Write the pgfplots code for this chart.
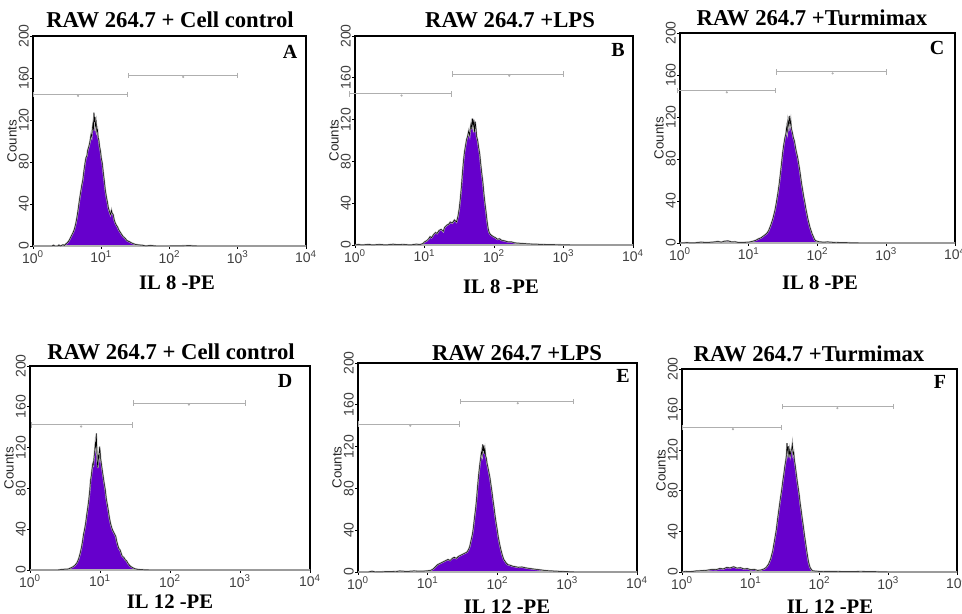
\documentclass[border=0pt]{standalone}
\usepackage{pgfplots}
\pgfplotsset{compat=1.18}
\usepackage{pgfplotstable}
\usepackage{fontspec}
\setmainfont{Liberation Serif}
\newfontfamily\arial{Liberation Sans}
\usetikzlibrary{arrows.meta}
\definecolor{hist}{RGB}{102,0,204}
\definecolor{gate}{RGB}{175,175,175}

\pgfplotstableread{
x y
0.00 0
0.28 0
0.30 0.8
0.32 0
0.36 0
0.38 1
0.40 0
0.44 1.2
0.46 0.5
0.48 2
0.50 3
0.52 4.5
0.535 6
0.55 8
0.565 10
0.58 12
0.595 14
0.61 17
0.625 21
0.64 26
0.655 32
0.67 39
0.685 46
0.70 52
0.715 58
0.73 63
0.745 71
0.76 78
0.775 84
0.79 86
0.80 91
0.815 94
0.83 98
0.84 102
0.85 106
0.86 104
0.87 112
0.878 116
0.886 110
0.893 127
0.90 118
0.908 123
0.915 114
0.925 118
0.935 109
0.945 111
0.955 103
0.965 101
0.975 95
0.99 90
1.00 84
1.015 79
1.03 70
1.045 62
1.06 53
1.075 47
1.09 42
1.105 36
1.12 33
1.135 30
1.15 34
1.16 31
1.175 30
1.19 25
1.205 22
1.22 20
1.24 18
1.26 15
1.28 13
1.30 11
1.32 9
1.34 8
1.36 6.5
1.38 5
1.40 4.5
1.43 3.5
1.46 2.5
1.50 1.5
1.55 1
1.60 0.8
1.65 0
1.72 0.5
1.80 0
2.00 0
2.30 0.3
2.40 0
4.00 0
}\dA

\pgfplotstableread{
x y
0.00 0
0.05 0.5
0.10 0
0.20 0.6
0.25 0
0.35 0.5
0.45 0
0.55 0.8
0.60 0.3
0.70 0.5
0.80 0
0.88 0.8
0.94 0.5
0.98 1.5
1.00 3
1.03 4
1.06 6
1.08 8
1.10 7
1.13 10
1.16 12
1.18 11
1.21 14
1.24 15
1.27 13
1.29 17
1.32 19
1.35 20
1.37 22
1.40 21
1.43 24
1.46 22
1.48 27
1.50 35
1.515 44
1.53 55
1.545 68
1.56 80
1.575 89
1.59 95
1.605 101
1.62 104
1.635 109
1.65 105
1.66 112
1.67 116
1.68 111
1.69 121
1.70 114
1.71 120
1.72 108
1.73 118
1.74 112
1.75 104
1.765 100
1.78 93
1.795 87
1.81 77
1.825 68
1.84 60
1.855 49
1.87 40
1.885 32
1.90 23
1.915 16
1.93 12
1.95 10
1.97 9
1.99 8
2.02 7
2.05 5.5
2.08 6
2.11 4.5
2.15 4
2.20 3
2.25 3
2.30 2
2.40 1.5
2.50 1
2.60 0.8
2.70 0.5
2.80 0.3
2.95 0.2
3.10 0
4.00 0
}\dB

\pgfplotstableread{
x y
0.00 0
0.10 0.3
0.20 0
0.30 0.8
0.40 0.5
0.50 1
0.55 1.5
0.60 0.8
0.65 1.8
0.70 2
0.75 1
0.80 1.2
0.85 0.5
0.92 0.6
1.00 0.8
1.05 1.5
1.10 2.5
1.14 4
1.18 5
1.22 7
1.26 9
1.29 12
1.32 17
1.35 23
1.38 31
1.40 38
1.42 46
1.44 55
1.46 66
1.48 78
1.495 87
1.51 94
1.525 100
1.54 104
1.55 110
1.56 106
1.57 116
1.58 112
1.59 121
1.60 113
1.61 117
1.62 109
1.635 105
1.65 100
1.665 97
1.68 91
1.695 86
1.71 82
1.725 76
1.74 70
1.755 63
1.77 56
1.785 50
1.80 44
1.815 39
1.83 33
1.845 28
1.86 23
1.875 19
1.89 15
1.905 12
1.92 9
1.94 6
1.96 3
1.98 2
2.02 1.2
2.08 0.8
2.15 1
2.25 0.5
2.40 0.3
2.60 0
4.00 0
}\dC

\pgfplotstableread{
x y
0.00 0
0.40 0
0.45 0.5
0.50 0.8
0.55 1
0.58 2
0.61 3
0.64 4.5
0.67 7
0.695 11
0.715 16
0.735 22
0.75 28
0.765 35
0.78 40
0.795 46
0.81 54
0.825 61
0.84 69
0.855 79
0.865 88
0.875 92
0.885 98
0.895 104
0.905 103
0.915 110
0.925 117
0.933 124
0.94 121
0.948 134
0.955 118
0.962 104
0.97 100
0.978 112
0.986 110
0.994 121
1.002 116
1.01 109
1.02 104
1.03 99
1.045 92
1.06 85
1.075 79
1.09 70
1.105 64
1.12 58
1.135 51
1.15 46
1.165 42
1.18 39
1.195 37
1.21 35
1.225 33
1.24 28
1.255 24
1.27 21
1.285 20
1.30 17
1.315 14
1.33 13
1.345 12
1.36 10
1.38 9
1.40 6.5
1.43 4
1.46 2.5
1.50 1.2
1.55 0.5
1.60 0.3
1.70 0
4.00 0
}\dD

\pgfplotstableread{
x y
0.00 0
0.15 0
0.20 0.8
0.25 0
0.40 0.3
0.55 0.5
0.60 1
0.70 0.5
0.80 1
0.90 0.8
0.98 1
1.04 1.5
1.08 3
1.11 5
1.14 7
1.17 8
1.20 9
1.23 10
1.26 11
1.29 12
1.32 11
1.35 13
1.38 14
1.41 13
1.44 15
1.47 16
1.50 17
1.53 18
1.56 19
1.58 21
1.60 24
1.62 30
1.64 36
1.655 43
1.67 52
1.685 60
1.70 70
1.712 80
1.724 89
1.736 97
1.748 104
1.76 110
1.77 115
1.78 112
1.788 122
1.796 116
1.804 121
1.812 113
1.82 117
1.83 111
1.84 109
1.85 104
1.86 101
1.875 96
1.89 91
1.905 84
1.92 77
1.935 69
1.95 62
1.965 54
1.98 47
1.995 41
2.01 34
2.03 27
2.05 21
2.07 16
2.09 12
2.12 9
2.15 7
2.18 6.5
2.22 5.5
2.26 5
2.30 4.5
2.35 4.8
2.40 4
2.45 3.5
2.50 3
2.56 2.5
2.62 2
2.70 1.3
2.78 1
2.90 0.6
3.00 0.3
3.10 0
4.00 0
}\dE

\pgfplotstableread{
x y
0.00 0
0.05 0.5
0.12 0.3
0.20 1
0.28 1.3
0.35 1.6
0.40 2.2
0.45 2.6
0.50 2.4
0.55 3.5
0.60 3
0.65 4.5
0.70 4
0.75 5.2
0.80 3.8
0.85 4.3
0.90 3
0.95 3.4
1.00 2.2
1.05 2.6
1.10 1.6
1.15 2
1.20 3.2
1.23 5
1.26 8
1.29 13
1.32 21
1.35 33
1.37 41
1.39 52
1.41 62
1.43 72
1.45 81
1.465 89
1.48 96
1.495 104
1.51 110
1.52 116
1.527 127
1.535 119
1.545 124
1.555 113
1.565 120
1.575 115
1.585 119
1.595 121
1.605 126
1.615 116
1.625 118
1.635 110
1.645 106
1.66 98
1.675 90
1.69 83
1.705 76
1.72 67
1.735 60
1.75 52
1.765 45
1.78 37
1.795 30
1.81 23
1.825 16
1.84 10
1.86 5
1.88 2.5
1.90 1.2
1.95 0.8
2.05 0.5
2.20 0.6
2.40 0.3
2.60 0.5
2.80 0.3
3.00 0
4.00 0
}\dF

\pgfplotsset{flow/.style={
  scale only axis, clip=false,
  xmin=0, xmax=4, ymin=0, ymax=200,
  xtick={0,1,2,3,4},
  xticklabels={10\textsuperscript{0},10\textsuperscript{1},10\textsuperscript{2},10\textsuperscript{3},10\textsuperscript{4}},
  ytick={0,40,80,120,160,200},
  /pgf/number format/assume math mode=true,
  tick label style={font=\arial\fontsize{10.5}{11}\selectfont, color=black!75},
  yticklabel style={rotate=90, anchor=south, inner sep=1pt},
  xticklabel style={inner sep=1.5pt},
  ylabel={Counts},
  ylabel style={font=\arial\fontsize{10}{11}\selectfont, color=black!85, yshift=-3pt},
  axis line style={line width=0.8pt},
  tick style={black, line width=0.5pt}, major tick length=2pt,
  xtick pos=bottom, ytick pos=left, tick align=outside,
  anchor=south west,
}}

\newcommand{\hist}[1]{%
  \addplot[draw=black!30, line width=1.2pt, fill=hist] table {#1} \closedcycle;
  \addplot[draw=black, line width=0.35pt] table {#1};
}

\begin{document}
\begin{tikzpicture}
\path[use as bounding box] (0pt,0pt) rectangle (721.5pt,459.75pt);

% A
\begin{axis}[flow, at={(24.75pt,275.25pt)}, width=204.75pt, height=157.5pt]
  \hist{\dA}
  \addplot[gate, line width=0.75pt, {Bar[width=4pt]}-{Bar[width=4pt]}] coordinates {(0,144.5) (1.39,144.5)};
  \addplot[gate, line width=0.75pt, {Bar[width=4pt]}-{Bar[width=4pt]}] coordinates {(1.39,162.6) (3.01,162.6)};
  \addplot[only marks, mark=*, mark size=0.6pt, gate] coordinates {(0.66,143) (2.20,161)};
\end{axis}
% B
\begin{axis}[flow, at={(266.25pt,276pt)}, width=208.5pt, height=156.75pt]
  \hist{\dB}
  \addplot[gate, line width=0.75pt, {Bar[width=4pt]}-{Bar[width=4pt]}] coordinates {(-0.08,144.5) (1.39,144.5)};
  \addplot[gate, line width=0.75pt, {Bar[width=4pt]}-{Bar[width=4pt]}] coordinates {(1.39,163.6) (3.01,163.6)};
  \addplot[only marks, mark=*, mark size=0.6pt, gate] coordinates {(0.67,143) (2.22,162)};
\end{axis}
% C
\begin{axis}[flow, at={(510pt,277.5pt)}, width=206.25pt, height=157.5pt]
  \hist{\dC}
  \addplot[gate, line width=0.75pt, {Bar[width=4pt]}-{Bar[width=4pt]}] coordinates {(-0.05,145) (1.39,145)};
  \addplot[gate, line width=0.75pt, {Bar[width=4pt]}-{Bar[width=4pt]}] coordinates {(1.39,163) (3.01,163)};
  \addplot[only marks, mark=*, mark size=0.6pt, gate] coordinates {(0.68,143.5) (2.22,161.5)};
\end{axis}
% D
\begin{axis}[flow, at={(22.5pt,32.25pt)}, width=210pt, height=153pt]
  \hist{\dD}
  \addplot[gate, line width=0.75pt, {Bar[width=4pt]}-{Bar[width=4pt]}] coordinates {(0.01,142.2) (1.467,142.2)};
  \addplot[gate, line width=0.75pt, {Bar[width=4pt]}-{Bar[width=4pt]}] coordinates {(1.467,163.7) (3.08,163.7)};
  \addplot[only marks, mark=*, mark size=0.6pt, gate] coordinates {(0.73,140.7) (2.27,162.2)};
\end{axis}
% E
\begin{axis}[flow, at={(268.5pt,30.75pt)}, width=209.25pt, height=156.75pt]
  \hist{\dE}
  \addplot[gate, line width=0.75pt, {Bar[width=4pt]}-{Bar[width=4pt]}] coordinates {(0,141.6) (1.46,141.6)};
  \addplot[gate, line width=0.75pt, {Bar[width=4pt]}-{Bar[width=4pt]}] coordinates {(1.46,163) (3.10,163)};
  \addplot[only marks, mark=*, mark size=0.6pt, gate] coordinates {(0.75,140) (2.29,161.5)};
\end{axis}
% F
\begin{axis}[flow, at={(511.5pt,30.75pt)}, width=206.25pt, height=152.25pt]
  \hist{\dF}
  \addplot[gate, line width=0.75pt, {Bar[width=4pt]}-{Bar[width=4pt]}] coordinates {(0,142.2) (1.45,142.2)};
  \addplot[gate, line width=0.75pt, {Bar[width=4pt]}-{Bar[width=4pt]}] coordinates {(1.45,162.9) (3.08,162.9)};
  \addplot[only marks, mark=*, mark size=0.6pt, gate] coordinates {(0.74,140.7) (2.26,161.4)};
\end{axis}

% titles
\begin{scope}[every node/.style={font=\bfseries\fontsize{17}{18}\selectfont, inner sep=0pt}]
\node at (127.5pt,444.75pt) {RAW 264.7 + Cell control};
\node at (382.5pt,444.75pt) {RAW 264.7 +LPS};
\node at (609pt,446.25pt) {RAW 264.7 +Turmimax};
\node at (128.25pt,195.75pt) {RAW 264.7 + Cell control};
\node at (387.75pt,195pt) {RAW 264.7 +LPS};
\node at (606.75pt,194.25pt) {RAW 264.7 +Turmimax};
\end{scope}
% x labels
\begin{scope}[every node/.style={font=\bfseries\fontsize{15.5}{16}\selectfont, inner sep=0pt}]
\node at (132.75pt,247.5pt) {IL 8 -PE};
\node at (375.75pt,244.5pt) {IL 8 -PE};
\node at (615pt,247.5pt) {IL 8 -PE};
\node at (127.5pt,8.25pt) {IL 12 -PE};
\node at (380.25pt,4.5pt) {IL 12 -PE};
\node at (622.5pt,4.5pt) {IL 12 -PE};
\end{scope}
% panel letters
\begin{scope}[every node/.style={font=\bfseries\fontsize{15}{16}\selectfont, inner sep=0pt}]
\node at (217.5pt,420.75pt) {A};
\node at (463.5pt,422.25pt) {B};
\node at (702.75pt,423.75pt) {C};
\node at (213.75pt,174pt) {D};
\node at (467.25pt,177.75pt) {E};
\node at (705pt,173.25pt) {F};
\end{scope}
\end{tikzpicture}
\end{document}
